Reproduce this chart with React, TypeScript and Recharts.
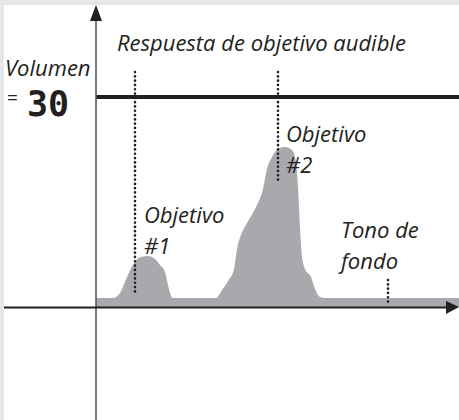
import React from 'react';
import { ComposedChart, Area, XAxis, YAxis, ReferenceLine, Scatter } from 'recharts';

// signal level vs. position (same units on both axes)
const signal = [
  { x: 0, y: 9 }, { x: 17, y: 9 }, { x: 24, y: 14 }, { x: 31, y: 30 }, { x: 38, y: 44 },
  { x: 45, y: 50 }, { x: 52, y: 51 }, { x: 59, y: 48 }, { x: 64, y: 42 }, { x: 69, y: 35 },
  { x: 72, y: 22 }, { x: 74, y: 14 }, { x: 77, y: 9 }, { x: 120, y: 9 }, { x: 126, y: 17 },
  { x: 132, y: 26 }, { x: 138, y: 38 }, { x: 141, y: 58 }, { x: 145, y: 72 }, { x: 151, y: 84 },
  { x: 160, y: 100 }, { x: 167, y: 118 }, { x: 171, y: 138 }, { x: 176, y: 150 }, { x: 182, y: 158 },
  { x: 189, y: 160 }, { x: 196, y: 157 }, { x: 200, y: 145 }, { x: 202, y: 120 }, { x: 204, y: 80 },
  { x: 206, y: 50 }, { x: 209, y: 38 }, { x: 215, y: 30 }, { x: 219, y: 18 }, { x: 224, y: 10 },
  { x: 228, y: 9 }, { x: 363, y: 9 },
];

const threshold = 210;
const xDomain: [number, number] = [-92, 363];
const yDomain: [number, number] = [-113, 302];

// dotted markers: [x, yFrom, yTo]
const markers: [number, number, number][] = [
  [39, 235, 12],
  [182, 235, 124],
  [292, 27, 4],
];

const upArrow = [{ x: 0, y: 302 }];
const rightArrow = [{ x: 363, y: 0 }];

const labels = [
  { t: 'Respuesta de objetivo audible', x: 117, y: 51 },
  { t: 'Volumen', x: 5, y: 76 },
  { t: 'Objetivo', x: 144, y: 223 },
  { t: '#1', x: 144, y: 254 },
  { t: 'Objetivo', x: 286, y: 142 },
  { t: '#2', x: 286, y: 173 },
  { t: 'Tono de', x: 341, y: 238 },
  { t: 'fondo', x: 341, y: 269 },
];
const volumeValue = '30';

const ink = '#231f20';

const UpHead = (p: any) => {
  const { cx, cy } = p;
  return <polygon points={`${cx},${cy} ${cx - 6},${cy + 16} ${cx + 6},${cy + 16}`} fill={ink} />;
};
const RightHead = (p: any) => {
  const { cx, cy } = p;
  return <polygon points={`${cx},${cy} ${cx - 13},${cy - 6} ${cx - 13},${cy + 7}`} fill={ink} />;
};

export default function App() {
  return (
    <div style={{ position: 'fixed', left: 0, top: 0, width: 459, height: 420, background: '#e6e7e9' }}>
      <div style={{ position: 'absolute', left: 4, top: 5, width: 455, height: 415, background: '#fff' }} />
      <div style={{ position: 'absolute', left: 0, top: 0 }}>
        <ComposedChart width={459} height={420} data={signal} margin={{ top: 5, left: 4, right: 0, bottom: 0 }}>
          <XAxis dataKey="x" type="number" domain={xDomain} hide allowDataOverflow />
          <YAxis type="number" domain={yDomain} hide allowDataOverflow />
          <Area dataKey="y" type="monotone" baseValue={0} fill="#a7a9ac" fillOpacity={1} stroke="none" isAnimationActive={false} />
          {markers.map(([x, a, b], i) => (
            <ReferenceLine key={i} segment={[{ x, y: a }, { x, y: b }]} stroke={ink} strokeWidth={2.6} strokeDasharray="0.1 4.2" strokeLinecap="round" />
          ))}
          <ReferenceLine segment={[{ x: 0, y: threshold }, { x: 363, y: threshold }]} stroke={ink} strokeWidth={4} />
          <ReferenceLine segment={[{ x: 0, y: -113 }, { x: 0, y: 290 }]} stroke="#58595b" strokeWidth={1.6} />
          <ReferenceLine segment={[{ x: -92, y: -0.5 }, { x: 352, y: -0.5 }]} stroke={ink} strokeWidth={2} />
          <Scatter data={upArrow} dataKey="y" shape={UpHead} isAnimationActive={false} />
          <Scatter data={rightArrow} dataKey="y" shape={RightHead} isAnimationActive={false} />
        </ComposedChart>
      </div>
      <svg width={459} height={420} style={{ position: 'absolute', left: 0, top: 0, pointerEvents: 'none' }}>
        <g fontFamily="'Open Sans', sans-serif" fontStyle="italic" fontSize={22} fill={ink}>
          {labels.map((l, i) => (
            <text key={i} x={l.x} y={l.y}>{l.t}</text>
          ))}
        </g>
        <text x={7} y={104} fontFamily="'Open Sans', sans-serif" fontSize={19} fill={ink}>=</text>
        <text x={27} y={116} fontFamily="'DejaVu Sans Mono', monospace" fontWeight="bold" fontSize={35} fill={ink}>{volumeValue}</text>
      </svg>
    </div>
  );
}
